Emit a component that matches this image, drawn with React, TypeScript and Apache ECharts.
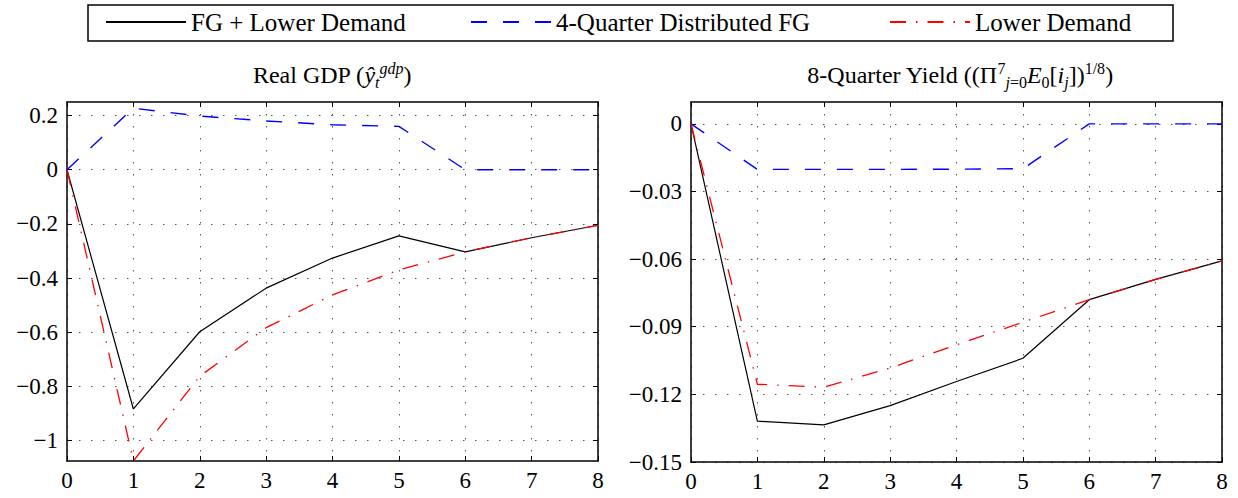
import React, { useEffect, useRef } from "react";
import * as echarts from "echarts";

const quarters = [0, 1, 2, 3, 4, 5, 6, 7, 8];
const seriesNames = ["FG + Lower Demand", "4-Quarter Distributed FG", "Lower Demand"];

// Real GDP
const gdpFG = [0, -0.883, -0.598, -0.437, -0.326, -0.244, -0.303, -0.251, -0.205];
const gdpDist = [0, 0.227, 0.198, 0.18, 0.166, 0.16, 0, 0, 0];
const gdpLow = [0, -1.075, -0.762, -0.583, -0.462, -0.37, -0.303, -0.251, -0.205];

// 8-Quarter Yield
const yldFG = [0, -0.1319, -0.1335, -0.125, -0.1143, -0.104, -0.078, -0.069, -0.0608];
const yldDist = [0, -0.0202, -0.0202, -0.0202, -0.0201, -0.0199, 0, 0, 0];
const yldLow = [0, -0.1155, -0.1168, -0.1083, -0.098, -0.088, -0.078, -0.069, -0.0608];

const gdpTicks = [0.2, 0, -0.2, -0.4, -0.6, -0.8, -1];
const yldTicks = [0, -0.03, -0.06, -0.09, -0.12, -0.15];
const gdpRange = [-1.075, 0.25];
const yldRange = [-0.15, 0.0097];

const FONT = "Liberation Serif";
const colors = ["#000000", "#0000ff", "#ff0000"];
const dashes: any[] = ["solid", [16, 16], [16, 10, 1.5, 10]];
const widths = [1.2, 1.4, 1.3];

const fmt = (v: number) => String(Math.round(v * 100) / 100).replace("-", "\u2212");

export default function App() {
  const ref = useRef<HTMLDivElement>(null);
  useEffect(() => {
    if (!ref.current) return;
    const chart = echarts.init(ref.current, undefined, { renderer: "svg" });
    const grids = [
      { left: 67, right: 640, top: 102, bottom: 37 },
      { left: 691, right: 16, top: 102, bottom: 36 },
    ];
    const xAxes: any[] = [];
    const yAxes: any[] = [];
    const ranges = [gdpRange, yldRange];
    const ticks = [gdpTicks, yldTicks];
    for (let g = 0; g < 2; g++) {
      const baseX = {
        type: "value",
        gridIndex: g,
        min: 0,
        max: 8,
        interval: 1,
        axisLine: { show: true, onZero: false, lineStyle: { color: "#000", width: 1.5 } },
        axisTick: { show: true, inside: true, length: 5, lineStyle: { color: "#000", width: 1 } },
      };
      xAxes.push({
        ...baseX,
        position: "bottom",
        axisLabel: { show: true, margin: 8, color: "#000", fontFamily: FONT, fontSize: 23 },
        splitLine: { show: true, lineStyle: { color: "#555", width: 1, type: [1.5, 10.5] } },
      });
      xAxes.push({ ...baseX, position: "top", axisLabel: { show: false }, splitLine: { show: false } });
      const baseY = {
        type: "value",
        gridIndex: g,
        min: ranges[g][0],
        max: ranges[g][1],
        axisLine: { show: true, onZero: false, lineStyle: { color: "#000", width: 1.5 } },
        axisTick: { show: true, inside: true, length: 5, customValues: ticks[g], lineStyle: { color: "#000", width: 1 } },
      };
      yAxes.push({
        ...baseY,
        position: "left",
        axisLabel: {
          show: true,
          margin: 9,
          customValues: ticks[g],
          color: "#000",
          fontFamily: FONT,
          fontSize: 23,
          formatter: (v: number) => fmt(v),
        },
        splitLine: { show: true, lineStyle: { color: "#555", width: 1, type: [1.5, 10.5] } },
      });
      yAxes.push({ ...baseY, position: "right", axisLabel: { show: false }, splitLine: { show: false } });
    }
    const data = [
      [gdpFG, gdpDist, gdpLow],
      [yldFG, yldDist, yldLow],
    ];
    const series: any[] = [];
    for (let g = 0; g < 2; g++) {
      for (let s = 0; s < 3; s++) {
        series.push({
          type: "line",
          name: seriesNames[s],
          xAxisIndex: g * 2,
          yAxisIndex: g * 2,
          data: quarters.map((q, i) => [q, data[g][s][i]]),
          symbol: "none",
          showSymbol: false,
          clip: true,
          lineStyle: { color: colors[s], width: widths[s], type: dashes[s] },
          itemStyle: { color: colors[s] },
          z: 2 + s,
        });
      }
    }
    const legendLefts = [105, 470, 889];
    const legends = seriesNames.map((n, i) => ({
      left: legendLefts[i],
      top: 9,
      padding: 0,
      data: [n],
      itemWidth: 80,
      itemHeight: 14,
      itemTextGap: 8,
      selectedMode: false,
      itemStyle: { opacity: 0 },
      textStyle: { color: "#000", fontFamily: FONT, fontSize: 25, lineHeight: 26 },
    }));
    const baseRich = {
      i: { fontStyle: "italic", fontFamily: FONT, fontSize: 24, lineHeight: 30 },
      sub: { fontStyle: "italic", fontFamily: FONT, fontSize: 16, lineHeight: 15, verticalAlign: "bottom" },
      subr: { fontFamily: FONT, fontSize: 16, lineHeight: 15, verticalAlign: "bottom" },
      sup: { fontStyle: "italic", fontFamily: FONT, fontSize: 16, lineHeight: 15, verticalAlign: "top" },
      supr: { fontFamily: FONT, fontSize: 16, lineHeight: 15, verticalAlign: "top" },
    };
    chart.setOption({
      animation: false,
      backgroundColor: "#fff",
      textStyle: { fontFamily: FONT },
      grid: grids,
      xAxis: xAxes,
      yAxis: yAxes,
      series,
      legend: legends,
      graphic: [
        {
          type: "rect",
          shape: { x: 88, y: 5, width: 1085, height: 36 },
          style: { fill: "none", stroke: "#000", lineWidth: 1.5 },
          z: 10,
        },
        {
          type: "text",
          x: 332,
          y: 75,
          style: {
            text: "Real GDP ({i|ŷ}{sub|t}{sup|gdp})",
            align: "center",
            verticalAlign: "middle",
            fontFamily: FONT,
            fontSize: 24,
            fontWeight: "normal",
            lineHeight: 30,
            fill: "#000",
            rich: baseRich,
          },
        },
        {
          type: "text",
          x: 960,
          y: 75,
          style: {
            text: "8-Quarter Yield ((Π{supr|7}{sub|j}{subr|=0}{i|E}{subr|0}[{i|i}{sub|j}]){supr|1/8})",
            align: "center",
            verticalAlign: "middle",
            fontFamily: FONT,
            fontSize: 24,
            fontWeight: "normal",
            lineHeight: 30,
            fill: "#000",
            rich: baseRich,
          },
        },
      ],
    });
    return () => chart.dispose();
  }, []);
  return (
    <div
      ref={ref}
      style={{ position: "absolute", left: 0, top: 0, width: 1238, height: 498, background: "#fff" }}
    />
  );
}
